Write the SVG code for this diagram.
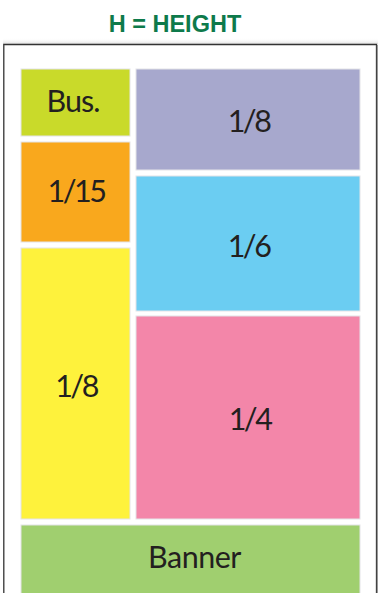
<svg xmlns="http://www.w3.org/2000/svg" width="378" height="593" viewBox="0 0 378 593">
  <defs>
    <linearGradient id="shadowTop" x1="0" y1="0" x2="0" y2="1">
      <stop offset="0" stop-color="#ffffff" stop-opacity="0"/>
      <stop offset="1" stop-color="#cccccc" stop-opacity="0.6"/>
    </linearGradient>
  </defs>
  <style>
    .box { stroke: #e4e4e8; stroke-width: 1; }
    .lbl { font-family: Lato, "Open Sans", "Liberation Sans", sans-serif; font-size: 30.5px; fill: #231f20; text-anchor: middle; }
    .frac { letter-spacing: -2.5px; }
    .title { font-family: "Liberation Sans", Arial, sans-serif; font-weight: bold; font-size: 23.5px; fill: #0e7a4b; text-anchor: middle; }
  </style>
  <rect x="0" y="0" width="378" height="593" fill="#ffffff"/>
  <text class="title" x="175" y="31.5">H = HEIGHT</text>
  <g id="frame">
    <rect x="3" y="38" width="375" height="6" fill="url(#shadowTop)"/>
    <path d="M3.8,593 V44.5 H376.5 V593" fill="#ffffff" stroke="#333333" stroke-width="1.3"/>
    <line x1="377.3" y1="45" x2="377.3" y2="593" stroke="#888888" stroke-width="1"/>
  </g>
  <g id="bus">
    <rect class="box" x="21" y="69" width="109" height="67" fill="#c9da2a"/>
    <text class="lbl" x="73" y="112" letter-spacing="-1">Bus.</text>
  </g>
  <g id="one-fifteenth">
    <rect class="box" x="21" y="142" width="109" height="100" fill="#f9a81d"/>
    <text class="lbl frac" x="76" y="202.3">1/15</text>
  </g>
  <g id="one-eighth-left">
    <rect class="box" x="21" y="248" width="109" height="271" fill="#fef23c"/>
    <text class="lbl frac" x="76" y="396.7">1/8</text>
  </g>
  <g id="one-eighth-top">
    <rect class="box" x="136" y="69" width="224" height="101" fill="#a7a8cd"/>
    <text class="lbl frac" x="248.5" y="132">1/8</text>
  </g>
  <g id="one-sixth">
    <rect class="box" x="136" y="176" width="224" height="135" fill="#6bcdf2"/>
    <text class="lbl frac" x="248.5" y="256.7">1/6</text>
  </g>
  <g id="one-quarter">
    <rect class="box" x="136" y="316" width="224" height="203" fill="#f386a9"/>
    <text class="lbl frac" x="249.5" y="430">1/4</text>
  </g>
  <g id="banner">
    <rect class="box" x="21" y="525" width="339" height="72" fill="#a0cf6f"/>
    <text class="lbl" x="194.5" y="568.3" letter-spacing="-0.5">Banner</text>
  </g>
  <g id="connectors"></g>
</svg>
